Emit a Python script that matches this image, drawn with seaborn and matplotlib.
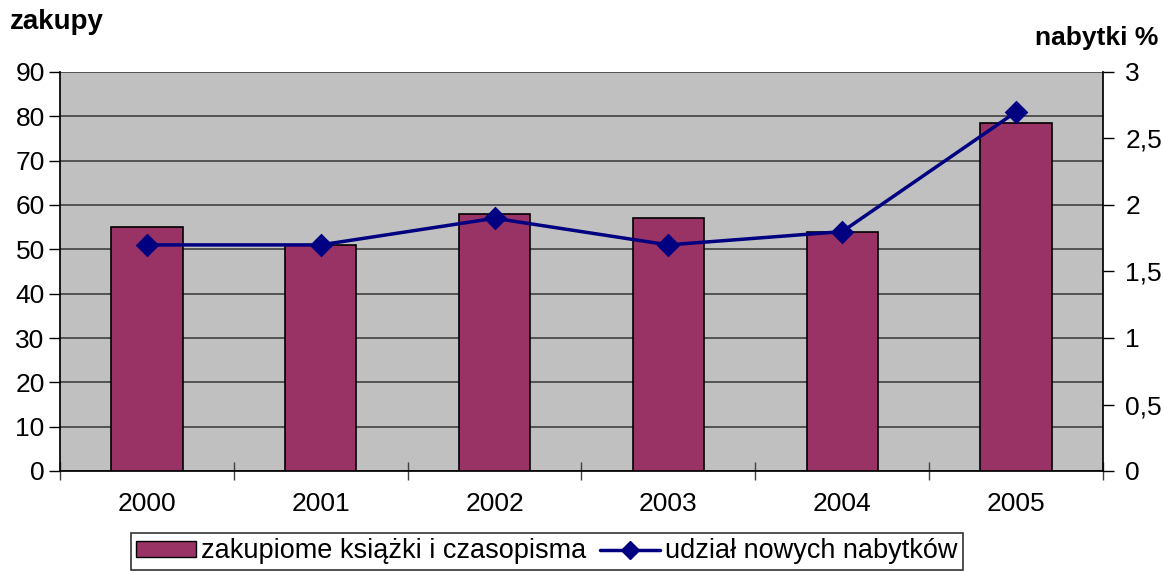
import matplotlib
matplotlib.use("Agg")
import matplotlib.pyplot as plt
import seaborn as sns
import pandas as pd
from matplotlib.ticker import FuncFormatter, FixedLocator
from matplotlib.patches import Patch
from matplotlib.lines import Line2D

years = ["2000", "2001", "2002", "2003", "2004", "2005"]
zakupy = [55, 51, 58, 57, 54, 78.5]
nabytki = [1.7, 1.7, 1.9, 1.7, 1.8, 2.7]
left_ticks = [0, 10, 20, 30, 40, 50, 60, 70, 80, 90]
right_ticks = [0, 0.5, 1, 1.5, 2, 2.5, 3]

sns.set_theme(style="white")
plt.rcParams['font.family'] = ['Liberation Sans', 'DejaVu Sans']
plt.rcParams['text.color'] = 'black'
plt.rcParams['xtick.color'] = 'black'
plt.rcParams['ytick.color'] = 'black'

df = pd.DataFrame({"rok": years, "zakupy": zakupy, "nabytki": nabytki})

fig = plt.figure(figsize=(11.63, 5.71), dpi=100)
ax = fig.add_axes([60/1163, 100/571, 1043/1163, 399/571])
ax.set_facecolor("#C0C0C0")

sns.barplot(data=df, x="rok", y="zakupy", ax=ax, color="#993366",
            width=0.41, edgecolor="black", linewidth=1.2, saturation=1, zorder=3)
ax.set_xlim(-0.5, 5.5)
ax.set_ylim(0, 90)
ax.set_yticks(left_ticks)
ax.yaxis.grid(True, color="#404040", linewidth=1.2, zorder=0)
ax.set_axisbelow(True)
ax.set_xlabel("")
ax.set_ylabel("")
ax.tick_params(axis="x", which="major", length=0, labelsize=19, pad=15, labelcolor="black")
ax.xaxis.set_minor_locator(FixedLocator([i - 0.5 for i in range(7)]))
ax.tick_params(axis="x", which="minor", bottom=True, length=13, direction="inout", width=1, color="#404040")
ax.tick_params(axis="y", length=8, width=1, color="black", labelsize=19, left=True, direction="out", pad=3, labelcolor="black")
for s in ax.spines.values():
    s.set_visible(False)
ax.spines["left"].set_visible(True)
ax.spines["left"].set_color("black")
ax.spines["bottom"].set_visible(True)
ax.spines["bottom"].set_color("black")

ax2 = ax.twinx()
sns.pointplot(data=df, x="rok", y="nabytki", ax=ax2, color="#000080",
              markers="D", markersize=10, linewidth=2.5, zorder=5)
ax2.set_xlim(-0.5, 5.5)
ax2.set_ylim(0, 3)
ax2.set_yticks(right_ticks)
ax2.yaxis.set_major_formatter(FuncFormatter(lambda v, p: ("%g" % v).replace(".", ",")))
ax2.tick_params(axis="y", length=8, width=1, color="black", labelsize=19, right=True, direction="out", pad=8, labelcolor="black")
ax2.set_ylabel("")
ax2.set_xlabel("")
for s in ax2.spines.values():
    s.set_visible(False)
ax2.spines["right"].set_visible(True)
ax2.spines["right"].set_color("black")
ax2.grid(False)

fig.text(10/1163, 1 - 22/571, "zakupy", fontsize=20, fontweight="bold", va="center", ha="left", color="black")
fig.text(1158/1163, 1 - 38/571, "nabytki %", fontsize=19, fontweight="bold", va="center", ha="right", color="black")

handles = [Patch(facecolor="#993366", edgecolor="black", linewidth=1),
           Line2D([0], [0], color="#000080", marker="D", markersize=9, linewidth=2.5)]
labels = ["zakupiome książki i czasopisma", "udział nowych nabytków"]
leg = fig.legend(handles, labels, loc="upper center", bbox_to_anchor=(547/1163, 1 - 533/571),
                 borderaxespad=0, ncol=2, frameon=True, fancybox=False, fontsize=19.5,
                 handlelength=2.2, handleheight=0.5, handletextpad=0.2, columnspacing=0.5,
                 borderpad=0.2)
leg.get_frame().set_edgecolor("black")
leg.get_frame().set_linewidth(1.2)
for t in leg.get_texts():
    t.set_color("black")

fig.savefig("out.png", dpi=100)
